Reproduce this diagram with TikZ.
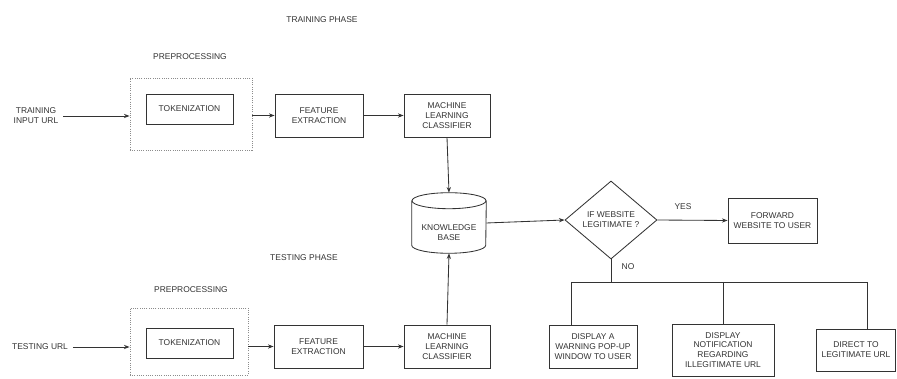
\documentclass[tikz,border=0pt]{standalone}
\usepackage{fontspec}
\setmainfont{Liberation Sans}
\usetikzlibrary{arrows.meta,shapes.geometric}

\begin{document}
\begin{tikzpicture}[x=0.025cm, y=0.025cm,
    >={Stealth[length=4pt,width=3pt]},
    every node/.style={font=\fontsize{6}{7}\selectfont, text=black!80, align=center},
    box/.style={draw=black!80, line width=0.6pt, inner sep=1pt},
    prepbox/.style={draw=black!45, densely dotted, line width=0.6pt, inner sep=0pt},
    decide/.style={draw=black!80, line width=0.6pt, diamond, aspect=1.2, inner sep=0pt,
                   minimum width=2.3cm, minimum height=1.95cm},
    flow/.style={->, draw=black!80, line width=0.6pt},
    wire/.style={draw=black!80, line width=0.6pt}]
  \useasboundingbox (0,0) rectangle (897,-379);

  % Phase titles
  \node (trainphase) at (322,-20) {TRAINING PHASE};
  \node (testphase) at (304,-258) {TESTING PHASE};

  % Training row
  \node (trainurl) at (36,-116) {TRAINING\\INPUT URL};
  \node (preplabA) at (190,-57) {PREPROCESSING};
  \node[prepbox, minimum width=3.05cm, minimum height=1.8cm] (prepA) at (191,-114) {};
  \node[box, minimum width=2.175cm, minimum height=0.75cm] (tokA) at (189.5,-109) {TOKENIZATION};
  \node[box, minimum width=2.2cm, minimum height=1.075cm] (featA) at (319,-115.5) {FEATURE\\EXTRACTION};
  \node[box, minimum width=2.15cm, minimum height=1.075cm] (mlA) at (447,-115.5) {MACHINE\\LEARNING\\CLASSIFIER};

  % Testing row
  \node (testurl) at (40,-347) {TESTING URL};
  \node (preplabB) at (191,-290) {PREPROCESSING};
  \node[prepbox, minimum width=2.95cm, minimum height=1.675cm] (prepB) at (189,-341.5) {};
  \node[box, minimum width=2.175cm, minimum height=0.75cm] (tokB) at (189.5,-343) {TOKENIZATION};
  \node[box, minimum width=2.225cm, minimum height=1.075cm] (featB) at (318.5,-346.5) {FEATURE\\EXTRACTION};
  \node[box, minimum width=2.15cm, minimum height=1.075cm] (mlB) at (447,-346.5) {MACHINE\\LEARNING\\CLASSIFIER};

  % Knowledge base (cylinder)
  \node[minimum width=1.85cm, minimum height=1.5cm, inner sep=0pt] (kb) at (449,-223) {};
  \node (kbtext) at (449,-233) {KNOWLEDGE\\BASE};
  \draw[wire] ([yshift=-0.2cm]kb.north) ellipse [x radius=0.925cm, y radius=0.2cm];
  \draw[wire] ([yshift=-0.2cm]kb.north west) -- ([yshift=0.2cm]kb.south west)
    arc[start angle=180, end angle=360, x radius=0.925cm, y radius=0.2cm]
    -- ([yshift=-0.2cm]kb.north east);

  % Decision
  \node[decide] (legit) at (611,-220) {IF WEBSITE\\LEGITIMATE ?};
  \node[box, minimum width=2.225cm, minimum height=1.125cm] (fwd) at (772.5,-220.5) {FORWARD\\WEBSITE TO USER};
  \node (yes) at (683,-207) {YES};
  \node (no) at (628,-267) {NO};

  % Outcomes
  \node[box, minimum width=2.2cm, minimum height=1.075cm] (warn) at (593,-346.5) {DISPLAY A\\WARNING POP-UP\\WINDOW TO USER};
  \node[box, minimum width=2.55cm, minimum height=1.3cm] (notify) at (723,-350) {DISPLAY\\NOTIFICATION\\REGARDING\\ILLEGITIMATE URL};
  \node[box, minimum width=1.975cm, minimum height=1.05cm] (direct) at (856,-350) {DIRECT TO\\LEGITIMATE URL};

  % Training arrows
  \draw[flow] (trainurl.east) -- (trainurl.east -| prepA.west);
  \draw[flow] (prepA.east |- featA.west) -- (featA.west);
  \draw[flow] (featA.east) -- (mlA.west);
  \draw[flow] (mlA.south) -- (kb.north);

  % Testing arrows
  \draw[flow] (testurl.east) -- (testurl.east -| prepB.west);
  \draw[flow] (prepB.east |- featB.west) -- (featB.west);
  \draw[flow] (featB.east) -- (mlB.west);
  \draw[flow] (mlB.north) -- (kb.south);

  % Decision arrows
  \draw[flow] (kb.east) -- (legit.west);
  \draw[flow] (legit.east) -- (fwd.west);

  % NO branch
  \coordinate (split) at (611,-282);
  \coordinate (dropA) at (571,-282);
  \coordinate (dropC) at (867,-282);
  \draw[wire] (legit.south) -- (split);
  \draw[wire] (dropA) -- (dropC);
  \draw[wire] (dropA) -- (dropA |- warn.north);
  \draw[wire] (notify.north |- split) -- (notify.north);
  \draw[wire] (dropC) -- (dropC |- direct.north);
\end{tikzpicture}
\end{document}
